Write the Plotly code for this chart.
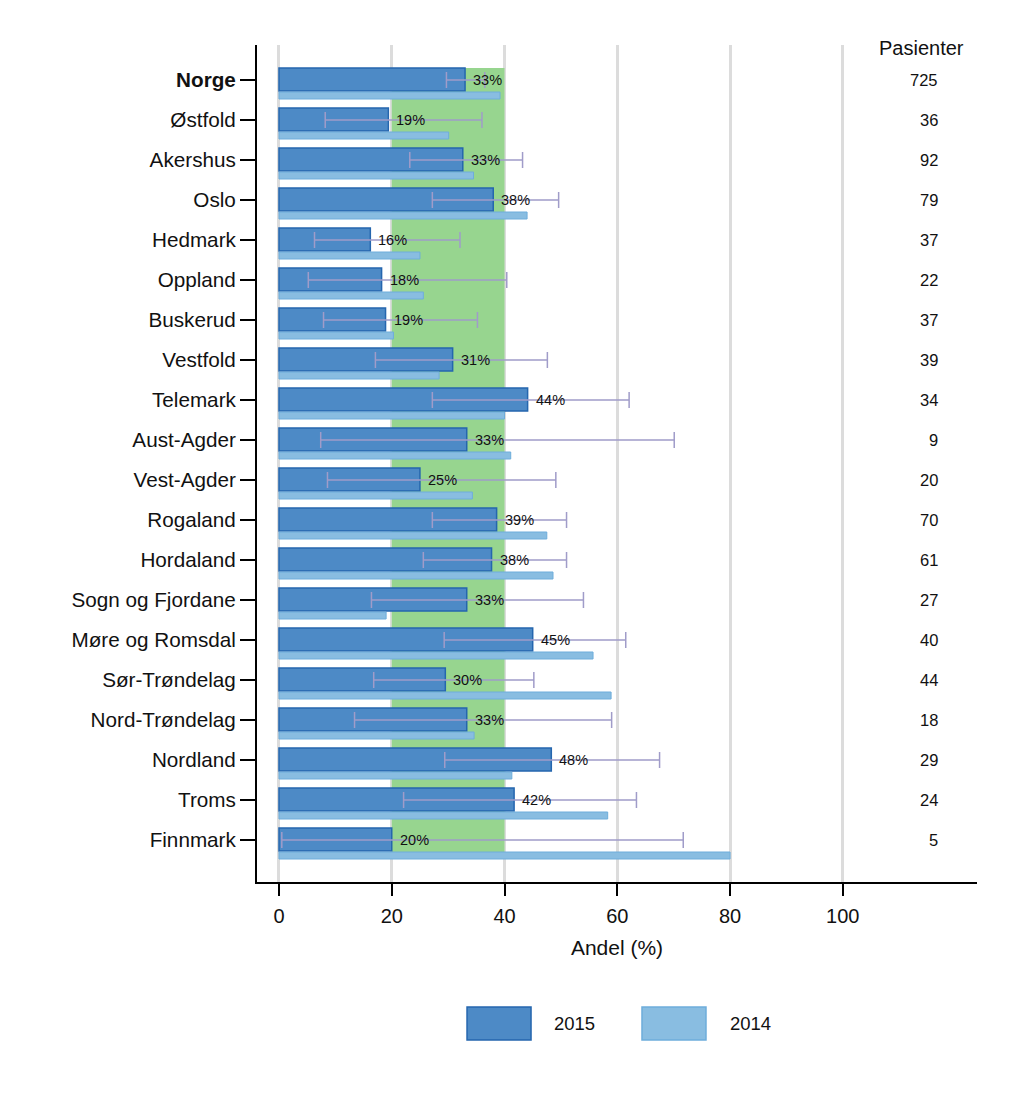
import plotly.graph_objects as go

regions = ["Norge", "Østfold", "Akershus", "Oslo", "Hedmark", "Oppland", "Buskerud",
           "Vestfold", "Telemark", "Aust-Agder", "Vest-Agder", "Rogaland", "Hordaland",
           "Sogn og Fjordane", "Møre og Romsdal", "Sør-Trøndelag", "Nord-Trøndelag",
           "Nordland", "Troms", "Finnmark"]
share_2015 = [33.0, 19.4, 32.6, 38.0, 16.2, 18.2, 18.9, 30.8, 44.1, 33.3, 25.0,
              38.6, 37.7, 33.3, 45.0, 29.5, 33.3, 48.3, 41.7, 20.0]
share_2014 = [39.2, 30.1, 34.5, 44.0, 25.0, 25.6, 20.3, 28.4, 40.0, 41.1, 34.3,
              47.5, 48.6, 19.0, 55.7, 58.9, 34.6, 41.3, 58.3, 80.0]
ci_low = [29.7, 8.2, 23.2, 27.2, 6.3, 5.2, 7.9, 17.1, 27.2, 7.4, 8.6,
          27.2, 25.6, 16.4, 29.3, 16.8, 13.4, 29.4, 22.1, 0.5]
ci_high = [36.5, 36.0, 43.2, 49.6, 32.1, 40.4, 35.2, 47.6, 62.1, 70.1, 49.1,
           51.0, 51.0, 54.0, 61.5, 45.2, 59.0, 67.5, 63.4, 71.7]
patients = [725, 36, 92, 79, 37, 22, 37, 39, 34, 9, 20, 70, 61, 27, 40, 44, 18, 29, 24, 5]
label_2015 = ["33%", "19%", "33%", "38%", "16%", "18%", "19%", "31%", "44%", "33%", "25%",
              "39%", "38%", "33%", "45%", "30%", "33%", "48%", "42%", "20%"]
target_low, target_high = 20, 40
x_ticks = [0, 20, 40, 60, 80, 100]

FONT = "Liberation Sans, Arial, sans-serif"
C15 = "#4d8ac6"
C15_LINE = "#2566ae"
C14 = "#89bde1"
C14_LINE = "#6eaddb"
GREEN = "#97d58f"
ERR = "#a09cc9"

pos = list(range(len(regions)))
ticktext = [f"<b>{r}</b>" if r == "Norge" else r for r in regions]

fig = go.Figure()

fig.add_trace(go.Bar(
    x=share_2015, y=pos, orientation="h", name="2015",
    offset=-0.3, width=0.575,
    marker=dict(color=C15, line=dict(color=C15_LINE, width=1.5)),
    showlegend=False, hoverinfo="skip"))
fig.add_trace(go.Bar(
    x=share_2014, y=pos, orientation="h", name="2014",
    offset=0.3, width=0.175,
    marker=dict(color=C14, line=dict(color=C14_LINE, width=1)),
    showlegend=False, hoverinfo="skip"))

fig.add_trace(go.Scatter(
    x=share_2015, y=pos, mode="markers",
    marker=dict(size=1, color="rgba(0,0,0,0)"),
    error_x=dict(type="data", symmetric=False,
                 array=[h - v for h, v in zip(ci_high, share_2015)],
                 arrayminus=[v - l for v, l in zip(share_2015, ci_low)],
                 color=ERR, thickness=1.5, width=8),
    showlegend=False, hoverinfo="skip"))

# target band
fig.add_shape(type="rect", xref="x", yref="y", x0=target_low, x1=target_high,
              y0=pos[0] - 0.3, y1=pos[-1] + 0.3, fillcolor=GREEN,
              line=dict(width=0), layer="between")

annotations = []
for i, (v, t) in enumerate(zip(share_2015, label_2015)):
    annotations.append(dict(x=v, y=i, xref="x", yref="y", text=t, showarrow=False,
                            xanchor="left", yanchor="middle", xshift=6,
                            font=dict(family=FONT, size=14.5, color="#111")))
for i, n in enumerate(patients):
    annotations.append(dict(x=0.9486, y=i, xref="paper", yref="y", text=str(n),
                            showarrow=False, xanchor="right", yanchor="middle",
                            font=dict(family=FONT, size=16.5, color="#111")))
annotations.append(dict(x=0.923, y=-0.8, xref="paper", yref="y", text="Pasienter",
                        showarrow=False, xanchor="center", yanchor="middle",
                        font=dict(family=FONT, size=20, color="#111")))

# legend (drawn manually to match large swatches)
leg = [("2015", C15, C15_LINE, 0.2917, 0.3806, 0.4097),
       ("2014", C14, C14_LINE, 0.5347, 0.6236, 0.6542)]
for name, fc, lc, x0, x1, xt in leg:
    fig.add_shape(type="rect", xref="paper", yref="paper", x0=x0, x1=x1,
                  y0=-0.1888, y1=-0.1493, fillcolor=fc, line=dict(color=lc, width=1.5))
    annotations.append(dict(x=xt, y=-0.169, xref="paper", yref="paper", text=name,
                            showarrow=False, xanchor="left", yanchor="middle",
                            font=dict(family=FONT, size=18.5, color="#111")))

fig.update_layout(
    width=1016, height=1106,
    margin=dict(l=249, r=47, t=37, b=232),
    plot_bgcolor="white", paper_bgcolor="white",
    barmode="overlay",
    annotations=annotations,
    font=dict(family=FONT, color="#111"),
    xaxis=dict(range=[-3.9, 123.8], tickvals=x_ticks, ticktext=[str(t) for t in x_ticks],
               showgrid=True, gridcolor="#dcdcdc", gridwidth=2.5, zeroline=False,
               showline=True, linecolor="black", linewidth=2,
               ticks="outside", ticklen=12, tickwidth=2, tickcolor="black",
               ticklabelstandoff=3,
               tickfont=dict(family=FONT, size=20, color="#111"),
               title=dict(text="Andel (%)", font=dict(family=FONT, size=21, color="#111"),
                          standoff=14)),
    yaxis=dict(range=[20.05, -0.875], tickvals=pos, ticktext=ticktext,
               showgrid=False, zeroline=False,
               showline=True, linecolor="black", linewidth=2,
               ticks="outside", ticklen=15, tickwidth=2, tickcolor="black",
               tickfont=dict(family=FONT, size=20.7, color="#111")),
)

fig.write_html("out.html")
